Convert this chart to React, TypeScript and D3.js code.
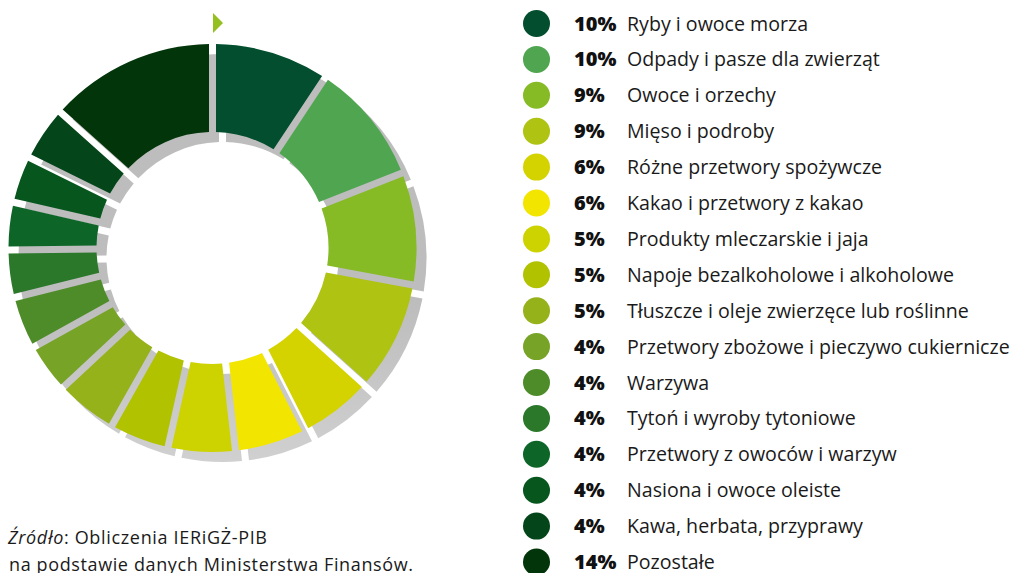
import React from "react";
import * as d3 from "d3";

const categories = [
  "Ryby i owoce morza",
  "Odpady i pasze dla zwierząt",
  "Owoce i orzechy",
  "Mięso i podroby",
  "Różne przetwory spożywcze",
  "Kakao i przetwory z kakao",
  "Produkty mleczarskie i jaja",
  "Napoje bezalkoholowe i alkoholowe",
  "Tłuszcze i oleje zwierzęce lub roślinne",
  "Przetwory zbożowe i pieczywo cukiernicze",
  "Warzywa",
  "Tytoń i wyroby tytoniowe",
  "Przetwory z owoców i warzyw",
  "Nasiona i owoce oleiste",
  "Kawa, herbata, przyprawy",
  "Pozostałe",
];

const shareLabels = [
  "10%", "10%", "9%", "9%", "6%", "6%", "5%", "5%", "5%",
  "4%", "4%", "4%", "4%", "4%", "4%", "14%",
];

// slice sizes
const sliceValues = [
  9.3, 9.7, 8.9, 8.75, 5.85, 5.7, 5.3, 4.7, 4.85,
  3.9, 4.15, 3.75, 3.75, 3.7, 4.3, 13.4,
];

const colors = [
  "#034e2e", "#50a550", "#86bb26", "#afc312", "#d4d300", "#f2e500",
  "#cdd300", "#b1c200", "#96b21b", "#77a327", "#4e8c29", "#2c782a",
  "#0d6627", "#07561e", "#04461a", "#02350a",
];

const sourceItalic = "Źródło";
const sourceRest = ": Obliczenia IERiGŻ-PIB";
const sourceLine2 = "na podstawie danych Ministerstwa Finansów.";

export default function App() {
  const W = 1015;
  const H = 573;
  const cx = 212.5;
  const cy = 248;
  const rOuter = 204;
  const rInner = 116;
  const gap = 7;

  const pie = d3
    .pie<number>()
    .sort(null)
    .value((d) => d);
  const arcs = pie(sliceValues);
  const arc = d3
    .arc<d3.PieArcDatum<number>>()
    .innerRadius(rInner)
    .outerRadius(rOuter)
    .padAngle(gap / rOuter)
    .padRadius(rOuter);

  const legendX = 536.5;
  const legendY0 = 23.5;
  const legendStep = 35.9;
  const font = "'Open Sans', 'Noto Sans', sans-serif";

  return (
    <svg
      width={W}
      height={H}
      viewBox={`0 0 ${W} ${H}`}
      style={{ position: "absolute", left: 0, top: 0, background: "#fff" }}
    >
      <defs>
        <linearGradient id="shadowGrad" gradientUnits="userSpaceOnUse" x1="0" y1={cy - rOuter} x2="0" y2={cy + rOuter + 10}>
          <stop offset="0" stopColor="#bdbdbd" />
          <stop offset="0.5" stopColor="#d6d6d6" />
          <stop offset="1" stopColor="#f1f1f1" />
        </linearGradient>
      </defs>

      <g transform={`translate(${cx + 10},${cy + 10})`}>
        {arcs.map((a, i) => (
          <path key={"s" + i} d={arc(a) || ""} fill="url(#shadowGrad)" />
        ))}
      </g>
      <g transform={`translate(${cx},${cy})`}>
        {arcs.map((a, i) => (
          <path key={"p" + i} d={arc(a) || ""} fill={colors[i]} />
        ))}
      </g>

      <path d={`M213,13 L223,23 L213,33 Z`} fill="#93bf1f" />

      {categories.map((c, i) => {
        const y = legendY0 + i * legendStep;
        return (
          <g key={"l" + i}>
            <circle cx={legendX} cy={y} r={13.5} fill={colors[i]} />
            <text x={574} y={y + 7} fontFamily={font} fontWeight={800} fontSize={20} fill="#111">
              {shareLabels[i]}
            </text>
            <text x={627} y={y + 7} fontFamily={font} fontSize={19.6} fill="#1a1a1a">
              {c}
            </text>
          </g>
        );
      })}

      <text x={8} y={544} fontFamily={font} fontSize={18} fill="#1a1a1a" textLength={259} lengthAdjust="spacing">
        <tspan fontStyle="italic">{sourceItalic}</tspan>
        <tspan>{sourceRest}</tspan>
      </text>
      <text x={9} y={571} fontFamily={font} fontSize={18} fill="#1a1a1a" textLength={404} lengthAdjust="spacing">
        {sourceLine2}
      </text>
    </svg>
  );
}
